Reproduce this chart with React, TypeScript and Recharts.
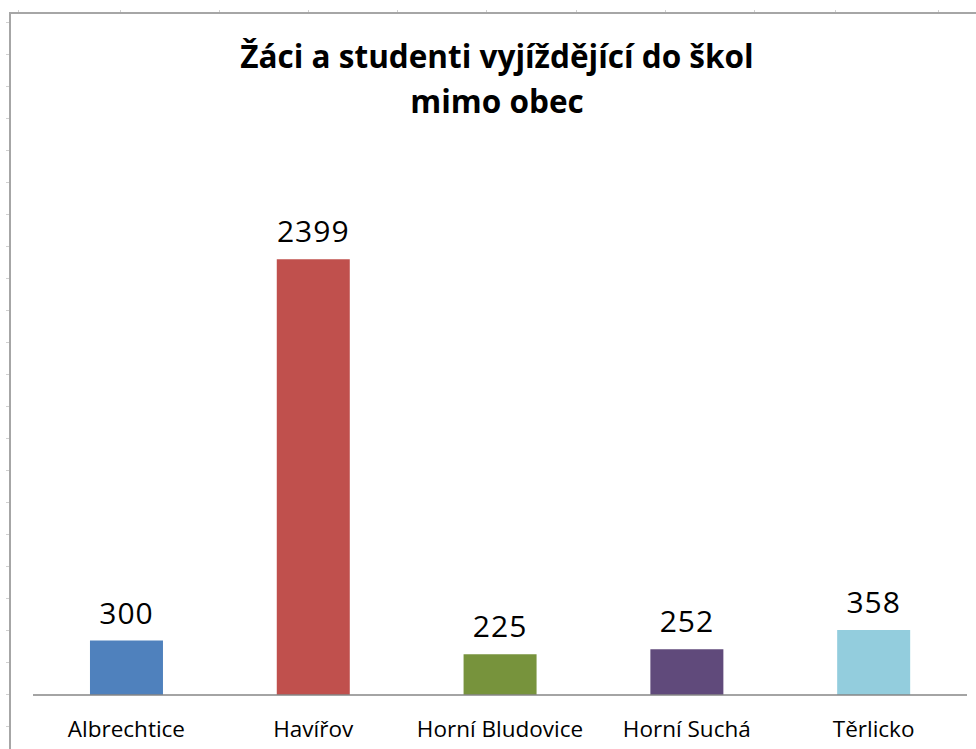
import React from 'react';
import { BarChart, Bar, XAxis, YAxis, Cell, LabelList } from 'recharts';

// --- Data ---
const towns = ['Albrechtice', 'Havířov', 'Horní Bludovice', 'Horní Suchá', 'Těrlicko'];
const students = [300, 2399, 225, 252, 358];
const barColors = ['#4F81BD', '#C0504D', '#77933C', '#604A7B', '#93CDDD'];

// sheet grid markers along the frame (decoration of the cropped spreadsheet)
const rowMarks = Array.from({ length: 23 }, (_, i) => 22 + i * 32);
const colMarks = [18, 120, 219, 308, 397, 486, 576, 665, 754, 835, 938];

const data = towns.map((name, i) => ({ name, value: students[i] }));

const FONT = '"Open Sans", Lato, sans-serif';

export default function App() {
  return (
    <div style={{ position: 'absolute', left: 0, top: 0, width: 976, height: 749, background: '#fff', overflow: 'hidden' }}>
      {/* sheet frame */}
      <div
        style={{
          position: 'absolute',
          left: 9,
          top: 12,
          width: 980,
          height: 760,
          borderLeft: '2px solid #a6a6a6',
          borderTop: '2px solid #a6a6a6',
        }}
      />
      {rowMarks.map((y) => (
        <div key={'r' + y} style={{ position: 'absolute', left: 6, top: y, width: 3, height: 1, background: '#d0d0d0' }} />
      ))}
      {colMarks.map((x) => (
        <div key={'c' + x} style={{ position: 'absolute', left: x, top: 10, width: 1, height: 2, background: '#d0d0d0' }} />
      ))}
      <div
        style={{
          position: 'absolute',
          left: 0,
          top: 33,
          width: 994,
          textAlign: 'center',
          fontFamily: FONT,
          fontWeight: 'bold',
          fontSize: 31.5,
          lineHeight: '45px',
          color: '#000',
        }}
      >
        Žáci a studenti vyjíždějící do škol
        <br />
        mimo obec
      </div>
      <BarChart
        width={976}
        height={749}
        data={data}
        margin={{ top: 150, right: 9, bottom: 0, left: 33 }}
        barCategoryGap="30.5%"
        style={{ position: 'absolute', left: 0, top: 0 }}
      >
        <XAxis
          dataKey="name"
          height={54}
          axisLine={{ stroke: '#868686', strokeWidth: 1.5 }}
          tickLine={false}
          tick={{ fill: '#000', fontSize: 22.5, fontFamily: FONT }}
          tickMargin={20}
          interval={0}
        />
        <YAxis hide domain={[0, 3000]} />
        <Bar dataKey="value" isAnimationActive={false}>
          {data.map((d, i) => (
            <Cell key={d.name} fill={barColors[i]} />
          ))}
          <LabelList
            dataKey="value"
            position="top"
            offset={17}
            style={{ fill: '#000', fontSize: 30, letterSpacing: 1, fontFamily: FONT }}
          />
        </Bar>
      </BarChart>
    </div>
  );
}
